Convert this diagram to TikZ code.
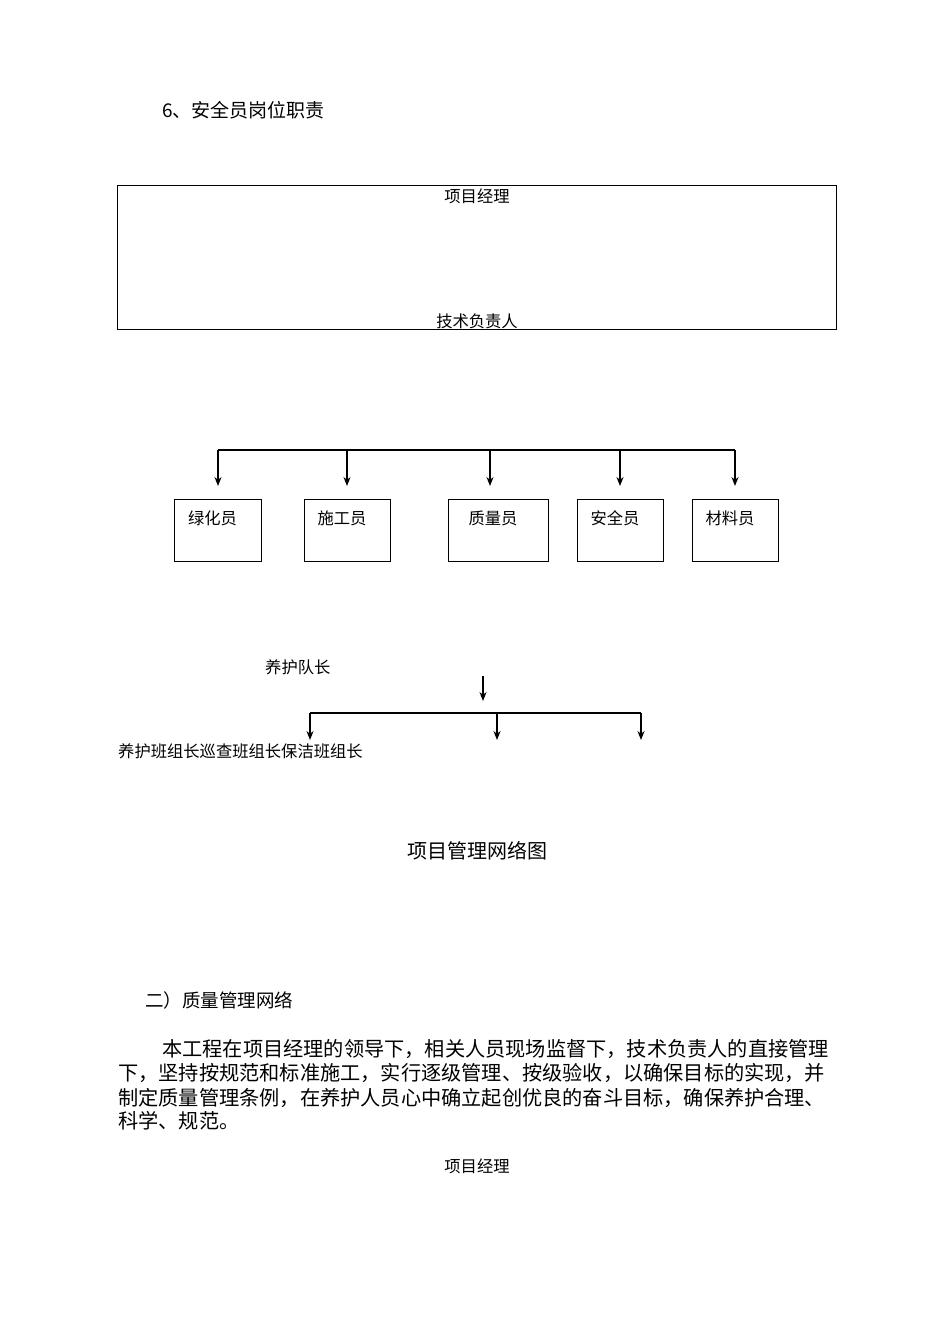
\documentclass[tikz,border=0pt]{standalone}
\usepackage{fontspec}
\setmainfont{Noto Sans CJK SC}
\tikzset{lbl/.style={inner sep=0pt,font=\fontsize{16.3}{16}\selectfont},
 box/.style={draw,line width=0.8pt,inner sep=0pt},
 arr/.style={-{Stealth[length=9pt,width=7pt]},line width=1.4pt},
 ln/.style={line width=1.4pt},
 para/.style={anchor=west,inner sep=0pt,font=\fontsize{20.2}{20}\selectfont}}
\usetikzlibrary{arrows.meta}
\begin{document}
\begin{tikzpicture}[x=1pt,y=-1pt]
\useasboundingbox (0,0) rectangle (950,1344);
\node[anchor=west,inner sep=0pt,font=\fontsize{19}{19}\selectfont] (h) at (162,110) {6、安全员岗位职责};
\node[box,minimum width=719pt,minimum height=144pt] (big) at (476.5,257) {};
\node[lbl] (pm) at (477,196) {项目经理};
\node[lbl] (tech) at (477,321) {技术负责人};
\coordinate (tl) at (218,450); \coordinate (tr) at (735,450);
\draw[ln] (tl) -- (tr);
\foreach \n/\x/\w/\t in {a/217.5/87/绿化员,b/347/86/施工员,c/498/100/质量员,d/620/86/安全员,e/735/86/材料员}{
 \node[box,minimum width=\w pt,minimum height=62pt] (\n) at (\x,530) {};
 \node[lbl] (\n t) at (\x-5,518) {\t};
}
\foreach \x in {218,347,490,620,735}{
 \coordinate (s\x) at (\x,450); \coordinate (e\x) at (\x,486);
 \draw[arr] (s\x) -- (e\x);}
\node[lbl,anchor=west] (dz) at (265,667) {养护队长};
\coordinate (q1) at (483,676); \coordinate (q2) at (483,701);
\draw[arr] (q1) -- (q2);
\coordinate (bl) at (310,713); \coordinate (br) at (641,713);
\draw[ln] (bl) -- (br);
\foreach \x in {310,497,641}{
 \coordinate (u\x) at (\x,713); \coordinate (v\x) at (\x,740);
 \draw[arr] (u\x) -- (v\x);}
\node[lbl,anchor=west] (bz) at (118,751) {养护班组长巡查班组长保洁班组长};
\node[inner sep=0pt,font=\fontsize{20}{20}\selectfont] (cap) at (477,851) {项目管理网络图};
\node[anchor=west,inner sep=0pt,font=\fontsize{18.5}{18}\selectfont] (s2) at (145,1000) {二）质量管理网络};
\node[para] (p1) at (162,1049) {本工程在项目经理的领导下，相关人员现场监督下，技术负责人的直接管理};
\node[para] (p2) at (118,1073) {下，坚持按规范和标准施工，实行逐级管理、按级验收，以确保目标的实现，并};
\node[para] (p3) at (118,1098) {制定质量管理条例，在养护人员心中确立起创优良的奋斗目标，确保养护合理、};
\node[para] (p4) at (118,1121) {科学、规范。};
\node[lbl] (pm2) at (477,1166) {项目经理};
\end{tikzpicture}
\end{document}
